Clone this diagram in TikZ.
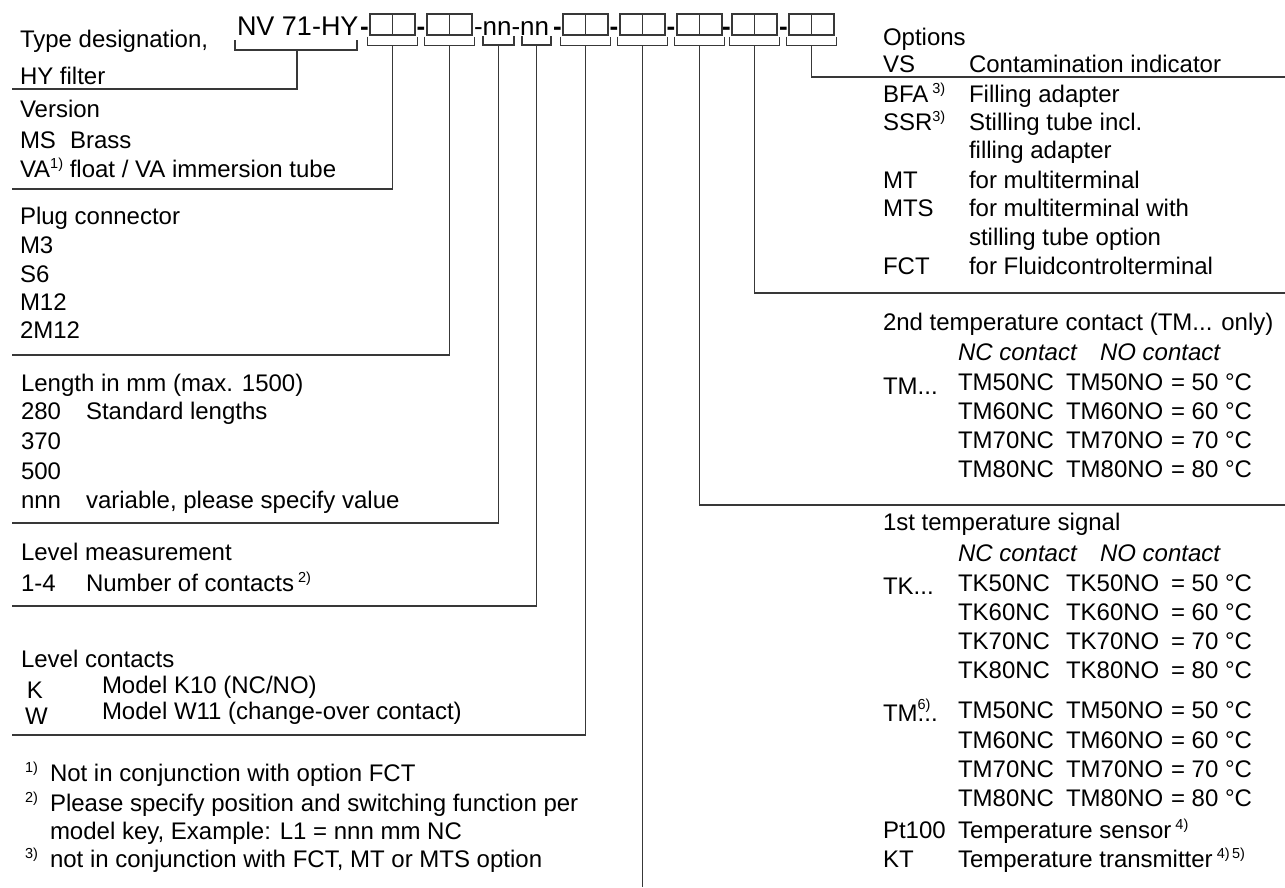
\documentclass[tikz,border=0pt]{standalone}
\usepackage{fontspec}
\setmainfont{Liberation Sans}
\newcommand\fm{\fontsize{24}{29}\selectfont}
\newcommand\fh{\fontsize{26}{31}\selectfont}
\newcommand\fhh{\fontsize{27}{32}\selectfont}
\newcommand\sups[1]{\raisebox{9pt}{\fontsize{14.5}{15}\selectfont #1}}
\newcommand\supsh[1]{\raisebox{12pt}{\fontsize{14.5}{15}\selectfont #1}}
\colorlet{ln}{black!78}
\begin{document}
\begin{tikzpicture}[x=1pt,y=-1pt,
  lbl/.style={anchor=base west,inner sep=0pt,outer sep=0pt,font=\fm},
  hdr/.style={anchor=base west,inner sep=0pt,outer sep=0pt,font=\fh},
  dsh/.style={anchor=base,inner sep=0pt,outer sep=0pt,font=\fh\bfseries},
  pairbox/.style={draw=ln,line width=1.4pt,minimum width=45pt,minimum height=21pt,inner sep=0pt,
    path picture={\draw[ln,line width=1.4pt] (path picture bounding box.north) -- (path picture bounding box.south);}},
  brk/.style={draw=ln,line width=1.3pt},
  conn/.style={draw=ln,line width=1.3pt}]
\fill[white] (0,0) rectangle (1285,887);
\useasboundingbox (0,0) rectangle (1285,887);

% ---------- header code ----------
\node[hdr,font=\fhh] (code) at (237,35) {NV 71-HY};
\node[hdr] (nn) at (474,35) {-nn-nn};
\node[dsh] (d1) at (364.5,35) {-};
\node[dsh] (d2) at (421,35) {-};
\node[dsh] (d3) at (557.5,35) {-};
\node[dsh] (d4) at (614,35) {-};
\node[dsh] (d5) at (671,35) {-};
\node[dsh] (d6) at (726.5,35) {-};
\node[dsh] (d7) at (783.5,35) {-};
\node[pairbox] (p1) at (392.5,24.5) {};
\node[pairbox] (p2) at (449.5,24.5) {};
\node[pairbox] (p3) at (585.5,24.5) {};
\node[pairbox] (p4) at (642.5,24.5) {};
\node[pairbox] (p5) at (699.5,24.5) {};
\node[pairbox] (p6) at (754.5,24.5) {};
\node[pairbox] (p7) at (811.5,24.5) {};

% brackets
\draw[brk] (235,40) -- (235,50) -- (357,50) -- (357,40);
\foreach \p in {p1,p2,p3,p4,p5,p6,p7}{
  \draw[brk] ([shift={(-2pt,-1pt)}]\p.south west) -- ([shift={(-2pt,-10pt)}]\p.south west)
     -- ([shift={(2pt,-10pt)}]\p.south east) -- ([shift={(2pt,-1pt)}]\p.south east);
  \coordinate (\p b) at ([yshift=-10pt]\p.south);
}
\draw[brk] (483,36) -- (483,45) -- (514,45) -- (514,36);
\draw[brk] (522,36) -- (522,45) -- (551,45) -- (551,36);
\coordinate (nvb) at (297,50);
\coordinate (n1b) at (498.5,45);
\coordinate (n2b) at (536.5,45);

% connector end points
\coordinate (e0) at (12,89);
\coordinate (e1) at (12,189);
\coordinate (e2) at (12,355);
\coordinate (e3) at (12,523);
\coordinate (e4) at (12,606);
\coordinate (e5) at (12,735);
\coordinate (e6) at (642.5,887);
\coordinate (e7) at (1285,505);
\coordinate (e8) at (1285,293);
\coordinate (e9) at (1285,77);

\draw[conn] (nvb) |- (e0);
\draw[conn] (p1b) |- (e1);
\draw[conn] (p2b) |- (e2);
\draw[conn] (n1b) |- (e3);
\draw[conn] (n2b) |- (e4);
\draw[conn] (p3b) |- (e5);
\draw[conn] (p4b) -- (e6);
\draw[conn] (p5b) |- (e7);
\draw[conn] (p6b) |- (e8);
\draw[conn] (p7b) |- (e9);

% ---------- left column ----------
\node[lbl] (t1) at (20,47) {Type designation,};
\node[lbl] (t2) at (20,84) {HY filter};
\node[lbl] (t3) at (20,117) {Version};
\node[lbl] (t4) at (20,148) {MS};
\node[lbl] (t4b) at (70,148) {Brass};
\node[lbl] (t5) at (20,177) {VA\sups{1)} float / VA immersion tube};

\node[lbl] (t6) at (20,224) {Plug connector};
\node[lbl] (t7) at (20,253) {M3};
\node[lbl] (t8) at (20,282) {S6};
\node[lbl] (t9) at (20,310) {M12};
\node[lbl] (t10) at (20,338) {2M12};

\node[lbl] (t11) at (21,391) {Length in mm (max. 1500)};
\node[lbl] (t12) at (21,419) {280};
\node[lbl] (t12b) at (86,419) {Standard lengths};
\node[lbl] (t13) at (21,449) {370};
\node[lbl] (t14) at (21,479) {500};
\node[lbl] (t15) at (21,508) {nnn};
\node[lbl] (t15b) at (86,508) {variable, please specify value};

\node[lbl] (t16) at (21,560) {Level measurement};
\node[lbl] (t17) at (21,591) {1-4};
\node[lbl] (t17b) at (86,591) {Number of contacts\,\sups{2)}};

\node[lbl] (t18) at (21,667) {Level contacts};
\node[lbl] (t19) at (27,698) {K};
\node[lbl] (t19b) at (102,693) {Model K10 (NC/NO)};
\node[lbl] (t20) at (25,724) {W};
\node[lbl] (t20b) at (102,719) {Model W11 (change-over contact)};

\node[lbl] (f1s) at (25,781) {\sups{1)}};
\node[lbl] (f1) at (50,781) {Not in conjunction with option FCT};
\node[lbl] (f2s) at (25,811) {\sups{2)}};
\node[lbl] (f2) at (50,811) {Please specify position and switching function per};
\node[lbl] (f2b) at (50,839) {model key, Example: L1 = nnn mm NC};
\node[lbl] (f3s) at (25,867) {\sups{3)}};
\node[lbl] (f3) at (50,867) {not in conjunction with FCT, MT or MTS option};

% ---------- right column: options ----------
\node[lbl] (r1) at (883,45) {Options};
\node[lbl] (r2) at (883,72) {VS};
\node[lbl] (r2b) at (969,72) {Contamination indicator};
\node[lbl] (r3) at (883,102) {BFA\,\sups{3)}};
\node[lbl] (r3b) at (969,102) {Filling adapter};
\node[lbl] (r4) at (883,130) {SSR\sups{3)}};
\node[lbl] (r4b) at (969,130) {Stilling tube incl.};
\node[lbl] (r5b) at (969,158) {filling adapter};
\node[lbl] (r6) at (883,188) {MT};
\node[lbl] (r6b) at (969,188) {for multiterminal};
\node[lbl] (r7) at (883,216) {MTS};
\node[lbl] (r7b) at (969,216) {for multiterminal with};
\node[lbl] (r8b) at (969,245) {stilling tube option};
\node[lbl] (r9) at (883,274) {FCT};
\node[lbl] (r9b) at (969,274) {for Fluidcontrolterminal};

% ---------- 2nd temperature contact ----------
\node[lbl] (s1) at (883,330) {2nd temperature contact (TM... only)};
\node[lbl,font=\fm\itshape] (s2) at (958,360) {NC contact};
\node[lbl,font=\fm\itshape] (s2b) at (1100,360) {NO contact};
\node[lbl] (s3) at (883,394) {TM...};
\foreach \n/\yy in {50/390,60/419,70/448,80/477}{
  \node[lbl] (a\n nc) at (958,\yy) {TM\n NC};
  \node[lbl] (a\n no) at (1066,\yy) {TM\n NO};
  \node[lbl] (a\n eq) at (1171,\yy) {= \n\ °C};
}

% ---------- 1st temperature signal ----------
\node[lbl] (u1) at (883,530) {1st temperature signal};
\node[lbl,font=\fm\itshape] (u2) at (958,561) {NC contact};
\node[lbl,font=\fm\itshape] (u2b) at (1100,561) {NO contact};
\node[lbl] (u3) at (883,594) {TK...};
\foreach \n/\yy in {50/591,60/620,70/649,80/678}{
  \node[lbl] (k\n nc) at (958,\yy) {TK\n NC};
  \node[lbl] (k\n no) at (1066,\yy) {TK\n NO};
  \node[lbl] (k\n eq) at (1171,\yy) {= \n\ °C};
}
\node[lbl] (u4) at (883,721) {TM\rlap{\supsh{6)}}...};
\foreach \n/\yy in {50/718,60/748,70/777,80/806}{
  \node[lbl] (m\n nc) at (958,\yy) {TM\n NC};
  \node[lbl] (m\n no) at (1066,\yy) {TM\n NO};
  \node[lbl] (m\n eq) at (1171,\yy) {= \n\ °C};
}
\node[lbl] (u5) at (883,838) {Pt100};
\node[lbl] (u5b) at (958,838) {Temperature sensor\,\sups{4)}};
\node[lbl] (u6) at (883,867) {KT};
\node[lbl] (u6b) at (958,867) {Temperature transmitter\,\sups{4)\,5)}};
\end{tikzpicture}
\end{document}
